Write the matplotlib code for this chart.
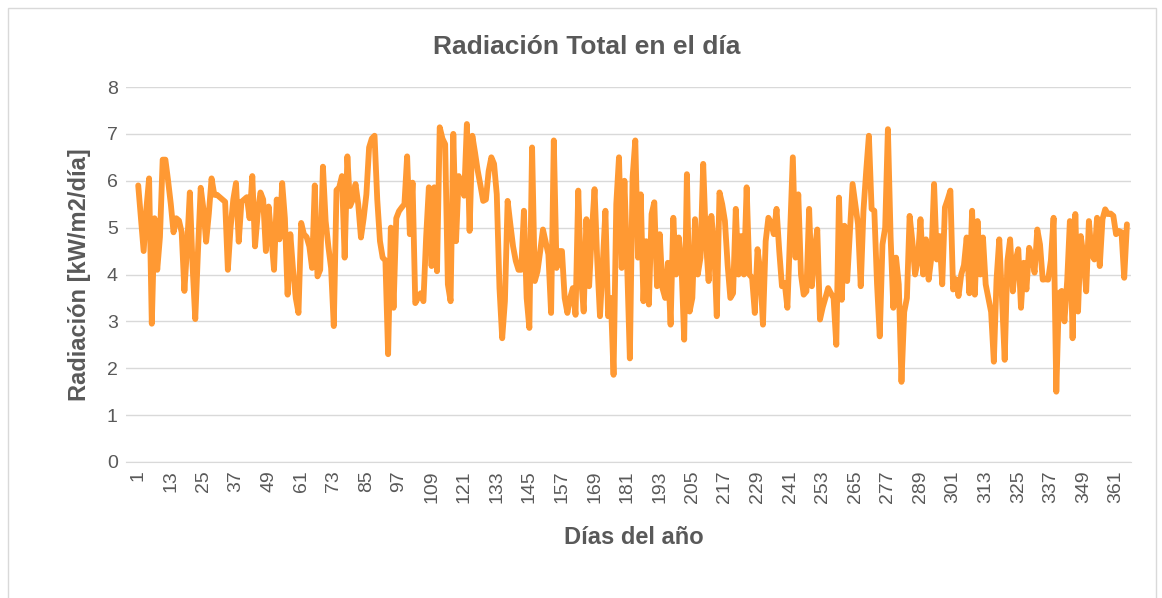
import numpy as np
import matplotlib
matplotlib.use('Agg')
from matplotlib import pyplot as plt
from matplotlib.patches import Rectangle

# radiacion diaria (kW/m2/dia), dias 1-365
rad_01_29 = [5.9, 5.2, 4.5, 5.4, 6.05, 2.95, 5.2, 4.1, 4.8, 6.45,
             6.45, 6.0, 5.5, 4.9, 5.2, 5.15, 4.9, 3.65, 4.6, 5.75,
             4.2, 3.05, 4.5, 5.85, 5.4, 4.7, 5.3, 6.05, 5.7]
rad_30_61 = [5.7, 5.65, 5.6, 5.55, 4.1, 5.0, 5.6, 5.95, 4.7, 5.55,
             5.6, 5.65, 5.2, 6.1, 4.6, 5.3, 5.75, 5.6, 4.5, 5.45,
             4.8, 4.1, 5.6, 4.75, 5.95, 5.2, 3.57, 4.86, 4.1, 3.5,
             3.18, 5.1]
rad_62_93 = [4.86, 4.8, 4.6, 4.14, 5.9, 3.96, 4.1, 6.3, 5.14, 4.6,
             4.14, 2.9, 5.8, 5.86, 6.1, 4.36, 6.52, 5.46, 5.6, 5.93,
             5.5, 4.79, 5.2, 5.71, 6.71, 6.9, 6.96, 5.6, 4.71, 4.36,
             4.3, 2.3]
rad_94_122 = [5.0, 3.29, 5.2, 5.35, 5.43, 5.5, 6.52, 4.86, 5.96, 3.39,
              3.5, 3.6, 3.43, 4.8, 5.86, 4.18, 5.86, 4.07, 7.14, 6.9,
              6.78, 3.79, 3.43, 7.0, 4.71, 6.1, 5.9, 5.68, 7.21]
rad_123_153 = [4.93, 6.96, 6.6, 6.21, 5.9, 5.57, 5.6, 6.2, 6.5, 6.36,
               5.71, 3.71, 2.64, 3.43, 5.57, 5.07, 4.6, 4.29, 4.1, 4.1,
               5.36, 3.5, 2.86, 6.71, 3.86, 4.07, 4.5, 4.96, 4.7, 4.43,
               3.18]
rad_154_184 = [6.86, 4.14, 4.5, 4.5, 3.5, 3.18, 3.5, 3.71, 3.14, 5.79,
               3.96, 3.21, 5.18, 3.75, 4.9, 5.82, 4.29, 3.11, 4.2, 5.36,
               3.11, 3.5, 1.86, 5.5, 6.5, 4.14, 6.0, 4.2, 2.21, 6.07,
               6.86]
rad_185_215 = [4.36, 5.71, 3.43, 4.71, 3.36, 5.29, 5.54, 3.75, 4.86, 3.71,
               3.5, 4.25, 2.93, 5.21, 4.0, 4.79, 4.21, 2.61, 6.14, 3.21,
               3.5, 5.18, 4.0, 4.36, 6.36, 4.71, 3.86, 5.25, 4.64, 3.11,
               5.75]
rad_216_246 = [5.5, 5.14, 4.2, 3.5, 3.6, 5.4, 4.0, 4.82, 4.0, 5.86,
               4.0, 3.93, 3.18, 4.54, 4.07, 2.93, 4.71, 5.21, 5.1, 4.86,
               5.4, 4.5, 3.75, 3.82, 3.29, 4.9, 6.5, 4.36, 5.71, 4.0,
               3.57]
rad_247_277 = [3.64, 5.4, 3.75, 4.5, 4.96, 3.04, 3.3, 3.5, 3.71, 3.6,
               3.5, 2.5, 5.64, 3.46, 5.04, 3.86, 4.9, 5.93, 5.5, 5.07,
               3.75, 5.36, 6.2, 6.96, 5.4, 5.36, 3.8, 2.68, 4.64, 5.0,
               7.1]
rad_278_308 = [4.79, 3.29, 4.36, 3.79, 1.71, 3.2, 3.5, 5.25, 4.71, 4.0,
               4.29, 5.18, 4.0, 4.75, 3.89, 4.36, 5.93, 4.32, 4.82, 3.79,
               5.43, 5.6, 5.79, 3.68, 3.9, 3.54, 4.0, 4.2, 4.79, 3.6,
               5.36]
rad_309_339 = [3.57, 5.14, 4.0, 4.79, 3.79, 3.5, 3.2, 2.14, 3.9, 4.75,
               3.5, 2.18, 4.29, 4.75, 3.64, 4.3, 4.54, 3.29, 4.25, 3.68,
               4.57, 4.4, 4.04, 4.96, 4.64, 3.89, 3.9, 3.89, 4.3, 5.21,
               1.5]
rad_340_365 = [3.6, 3.65, 3.0, 3.86, 5.14, 2.64, 5.29, 3.21, 4.82, 4.4,
               3.64, 5.14, 4.43, 4.32, 5.21, 4.18, 5.18, 5.39, 5.29, 5.3,
               5.25, 4.86, 4.93, 4.9, 3.93, 5.07]

radiacion = (rad_01_29 + rad_30_61 + rad_62_93 + rad_94_122 + rad_123_153
             + rad_154_184 + rad_185_215 + rad_216_246 + rad_247_277
             + rad_278_308 + rad_309_339 + rad_340_365)
dias = np.arange(1, len(radiacion) + 1)

tick_dias = list(range(1, 366, 12))
y_ticks = [0, 1, 2, 3, 4, 5, 6, 7, 8]

title = 'Radiación Total en el día'
xlabel = 'Días del año'
ylabel = 'Radiación [kW/m2/día]'

gray_txt = '#595959'
grid_c = '#d9d9d9'
orange = '#ff9933'

plt.rcParams['font.family'] = ['Liberation Sans', 'DejaVu Sans']

W, H = 1162, 598
fig = plt.figure(figsize=(W / 100, H / 100), dpi=100)
fig.patches.append(Rectangle((8 / W, -0.01), 1148 / W, 1 - 8 / H + 0.01,
                             transform=fig.transFigure, fill=False,
                             edgecolor='#d9d9d9', linewidth=1))

ax = fig.add_axes([126 / W, 1 - 462 / H, (1131 - 126) / W, (462 - 87) / H])
ax.plot(dias, radiacion, color=orange, linewidth=4.2,
        solid_joinstyle='round', solid_capstyle='round')

ax.set_xlim(-3.5, 366.5)
ax.set_ylim(0, 8)
ax.set_yticks(y_ticks)
ax.set_xticks(tick_dias)
ax.set_xticklabels([str(d) for d in tick_dias], rotation=90)
ax.grid(axis='y', color=grid_c, linewidth=1)
ax.set_axisbelow(True)
for s in ['top', 'right', 'left']:
    ax.spines[s].set_visible(False)
ax.spines['bottom'].set_color(grid_c)
ax.tick_params(axis='both', length=0, labelsize=14, colors=gray_txt, pad=6)

fig.text(587 / W, 1 - 47 / H, title, fontsize=19, fontweight='bold',
         color=gray_txt, ha='center', va='center')
fig.text(634 / W, 1 - 537 / H, xlabel, fontsize=17, fontweight='bold',
         color=gray_txt, ha='center', va='center')
fig.text(80 / W, 1 - 275 / H, ylabel, fontsize=17, fontweight='bold',
         color=gray_txt, ha='center', va='center', rotation=90)

plt.savefig('out.png', dpi=100)
